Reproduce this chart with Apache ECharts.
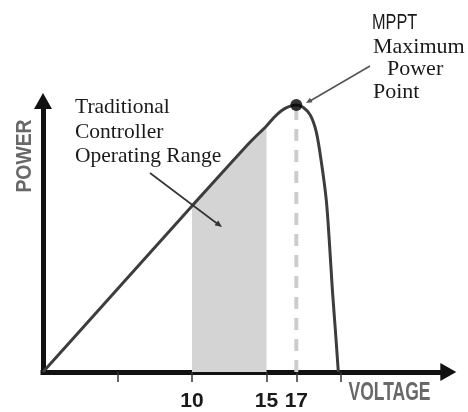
<!DOCTYPE html>
<html>
<head>
<meta charset="utf-8">
<script src="https://cdn.jsdelivr.net/npm/echarts@6/dist/echarts.min.js"></script>
<style>
html,body{margin:0;padding:0;background:#fff;}
#chart{width:468px;height:412px;}
</style>
</head>
<body>
<div id="chart"></div>
<script>
// ---- data ----
const voltage = [0, 5, 10, 12, 14, 15, 15.5, 16, 16.5, 17, 17.47, 17.94, 18.34, 18.68, 19.01, 19.21, 19.42, 19.62, 19.82];
const power   = [0, 30.6, 61.3, 73.4, 85.4, 90.8, 93.9, 96.4, 97.9, 98.5, 97.6, 94.8, 88.6, 77.5, 63.5, 48.7, 30.3, 15.5, 0];
const rangeStart = 10;
const rangeEnd = 15;
const mpptVoltage = 17;
const tickValues = [5, 10, 15, 17, 20];
const labelValues = [10, 15, 17];
const xAxisName = 'VOLTAGE';
const yAxisName = 'POWER';
const rangeLabel = 'Traditional\nController\nOperating Range';
const mpptTitle = 'MPPT';
const mpptLines = ['Maximum', 'Power', 'Point'];

const curve = voltage.map((v, i) => [v, power[i]]);
const shade = curve.filter(p => p[0] >= rangeStart && p[0] <= rangeEnd);
const peakPower = power[voltage.indexOf(mpptVoltage)];

function arrowHead(x1, y1, x2, y2, len, half, color) {
  const a = Math.atan2(y2 - y1, x2 - x1);
  const bx = x2 - len * Math.cos(a), by = y2 - len * Math.sin(a);
  const px = -Math.sin(a) * half, py = Math.cos(a) * half;
  return { type: 'polygon', silent: true, z: 100,
    shape: { points: [[x2, y2], [bx + px, by + py], [bx - px, by - py]] },
    style: { fill: color } };
}
function line(x1, y1, x2, y2, color, w) {
  return { type: 'line', silent: true, z: 100,
    shape: { x1, y1, x2, y2 }, style: { stroke: color, lineWidth: w } };
}

const chart = echarts.init(document.getElementById('chart'), null, { renderer: 'canvas' });
chart.setOption({
  animation: false,
  backgroundColor: '#ffffff',
  grid: { left: 43, right: 19.7, top: 101, bottom: 40, containLabel: false, outerBoundsMode: 'none' },
  xAxis: {
    type: 'value', min: 0, max: 27.2,
    splitLine: { show: false },
    axisLine: { show: true, symbol: ['none', 'triangle'], symbolSize: [18, 16],
      lineStyle: { color: '#111', width: 5, cap: 'square' } },
    axisTick: { show: true, customValues: tickValues, length: 10, inside: false,
      lineStyle: { color: '#333', width: 1.5 } },
    axisLabel: { show: true, customValues: labelValues, margin: 19,
      fontSize: 21, fontWeight: 'bold', color: '#1a1a1a', fontFamily: 'Liberation Sans' }
  },
  yAxis: {
    type: 'value', min: 0, max: 100,
    splitLine: { show: false },
    axisLine: { show: true, symbol: ['none', 'triangle'], symbolSize: [18, 16],
      lineStyle: { color: '#111', width: 5, cap: 'square' } },
    axisTick: { show: false },
    axisLabel: { show: false }
  },
  series: [
    { type: 'line', data: shade, smooth: 0.3, symbol: 'none', z: 1,
      lineStyle: { width: 0, opacity: 0 },
      areaStyle: { color: '#d4d4d4', opacity: 1 } },
    { type: 'line', data: [[mpptVoltage, 0], [mpptVoltage, peakPower]], symbol: 'none', z: 2,
      lineStyle: { color: '#cccccc', width: 4, type: [12, 9] } },
    { type: 'line', data: curve, smooth: 0.3, symbol: 'none', z: 3,
      lineStyle: { color: '#3d3d3d', width: 3 } },
    { type: 'scatter', data: [[mpptVoltage, peakPower]], symbol: 'circle', symbolSize: 12, z: 4,
      itemStyle: { color: '#000' } }
  ],
  graphic: [
    { type: 'text', x: 25, y: 156, rotation: Math.PI / 2, scaleX: 0.88, silent: true,
      style: { text: yAxisName, fontSize: 22, fontWeight: 'bold', fontFamily: 'Liberation Sans',
        fill: '#686868', textAlign: 'center', textVerticalAlign: 'middle', verticalAlign: 'middle' } },
    { type: 'text', x: 389.5, y: 393, scaleX: 0.7, silent: true,
      style: { text: xAxisName, fontSize: 25, fontWeight: 'bold', fontFamily: 'Liberation Sans',
        fill: '#686868', textAlign: 'center', textVerticalAlign: 'middle', verticalAlign: 'middle' } },
    { type: 'text', x: 75, y: 95.4, silent: true,
      style: { text: rangeLabel, fontSize: 21.5, lineHeight: 24.5, fontFamily: 'Liberation Serif',
        fill: '#1a1a1a', textAlign: 'left', textVerticalAlign: 'top', verticalAlign: 'top' } },
    { type: 'text', x: 372, y: 23.4, scaleX: 0.74, silent: true,
      style: { text: mpptTitle, fontSize: 22, fontFamily: 'Liberation Sans',
        fill: '#1a1a1a', textAlign: 'left', textVerticalAlign: 'middle', verticalAlign: 'middle' } },
    { type: 'text', x: 373, y: 47.6, silent: true,
      style: { text: mpptLines[0], fontSize: 22, fontFamily: 'Liberation Serif',
        fill: '#1a1a1a', textAlign: 'left', textVerticalAlign: 'middle', verticalAlign: 'middle' } },
    { type: 'text', x: 387, y: 69.6, silent: true,
      style: { text: mpptLines[1], fontSize: 22, fontFamily: 'Liberation Serif',
        fill: '#1a1a1a', textAlign: 'left', textVerticalAlign: 'middle', verticalAlign: 'middle' } },
    { type: 'text', x: 373, y: 92.6, silent: true,
      style: { text: mpptLines[2], fontSize: 22, fontFamily: 'Liberation Serif',
        fill: '#1a1a1a', textAlign: 'left', textVerticalAlign: 'middle', verticalAlign: 'middle' } },
    line(150, 173, 219, 225, '#333', 1.6),
    arrowHead(150, 173, 222, 227, 7, 3, '#333'),
    line(370, 66, 310, 101, '#555', 1.6),
    arrowHead(370, 66, 306, 103, 6, 2.5, '#555')
  ]
});
</script>
</body>
</html>
